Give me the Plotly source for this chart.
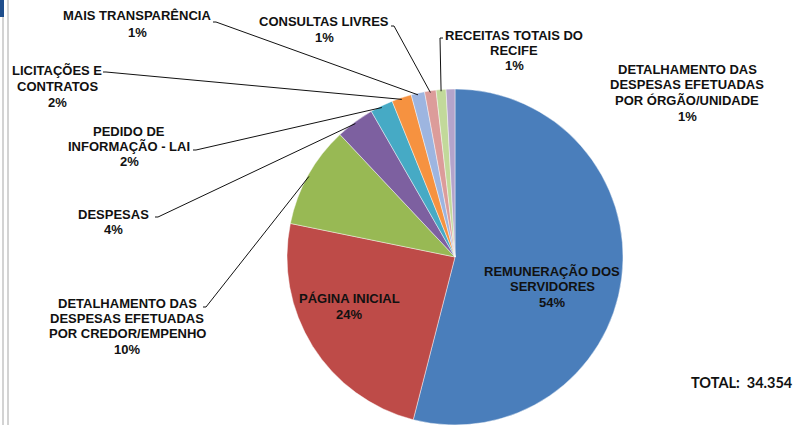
import math
import plotly.graph_objects as go

W, H = 799, 425

# ---- data ----
categories = [
    "REMUNERAÇÃO DOS<br>SERVIDORES",
    "PÁGINA INICIAL",
    "DETALHAMENTO DAS<br>DESPESAS EFETUADAS<br>POR CREDOR/EMPENHO",
    "DESPESAS",
    "PEDIDO DE<br>INFORMAÇÃO - LAI",
    "LICITAÇÕES E<br>CONTRATOS",
    "MAIS TRANSPARÊNCIA",
    "CONSULTAS LIVRES",
    "RECEITAS TOTAIS DO<br>RECIFE",
    "DETALHAMENTO DAS<br>DESPESAS EFETUADAS<br>POR ÓRGÃO/UNIDADE",
]
shares = [54.0, 24.2, 9.8, 3.7, 2.2, 1.9, 1.3, 1.1, 0.95, 0.85]
colors = ["#4A7EBB", "#BE4B48", "#98B954", "#7D60A0", "#46AAC5",
          "#F69240", "#9DB5E0", "#DC9C9A", "#C2D99A", "#B4A4CB"]
total_text = "TOTAL:  34.354"

# ---- geometry (pixels) ----
cx, cy, r = 455, 258, 169
dom_x = [(cx - r) / W, (cx + r) / W]
dom_y = [max(0, 1 - (cy + r) / H), 1 - (cy - r) / H]

fig = go.Figure(go.Pie(
    labels=[c.replace("<br>", " ") for c in categories],
    values=shares,
    sort=False,
    direction="clockwise",
    rotation=0,
    textinfo="none",
    hoverinfo="label+percent",
    marker=dict(colors=colors, line=dict(color="rgba(255,255,255,0.55)", width=0.8)),
    domain=dict(x=dom_x, y=dom_y),
    showlegend=False,
))

def px(x):
    return x / W

def py(y):
    return 1 - y / H

tot = sum(shares)
cum = 0
mids = []
for v in shares:
    mids.append((cum + v / 2) / tot * 2 * math.pi)
    cum += v

def edge(i, k=1.0):
    a = mids[i]
    return cx + r * k * math.sin(a), cy - r * k * math.cos(a)

pct = [f"{round(v / tot * 100)}%" for v in shares]

# label placement: (center x, first line center y, leader anchor or None)
place = [
    (552, 271, None),
    (349, 298, None),
    (127, 303, (203, 307)),
    (113, 214, (155, 217)),
    (129, 131, (193, 150)),
    (57, 71, (103, 72)),
    (137, 16, (213, 22)),
    (324, 22, (391, 26)),
    (514, 35, (443, 38)),
    (687, 70, None),
]
LH = 15

font = dict(family="Liberation Sans, Arial, sans-serif", size=13, color="#111111")
annotations = []
shapes = []
for i, (x, y, anc) in enumerate(place):
    lines = categories[i].split("<br>") + [pct[i]]
    for k, t in enumerate(lines):
        yy = y + k * LH + (1 if k == len(lines) - 1 and k > 0 else 0)
        annotations.append(dict(
            x=px(x), y=py(yy), xref="paper", yref="paper",
            text=f"<b>{t}</b>", showarrow=False,
            xanchor="center", yanchor="middle", align="center", font=font,
        ))
    if anc is not None:
        ex, ey = edge(i, 0.99)
        ax, ay = anc
        tick = 3 if ax < ex else -3
        path = f"M {px(ax)},{py(ay)} L {px(ax + tick)},{py(ay)} L {px(ex)},{py(ey)}"
        shapes.append(dict(type="path", xref="paper", yref="paper", path=path,
                           line=dict(color="#111111", width=1)))

annotations.append(dict(
    x=px(742), y=py(382), xref="paper", yref="paper",
    text=f"<b>{total_text}</b>", showarrow=False, xanchor="center", yanchor="middle",
    font=dict(family="Lato, Open Sans, sans-serif", size=14.5, color="#111111"),
))

# left window border decoration
shapes += [
    dict(type="line", xref="paper", yref="paper", x0=px(3), x1=px(3), y0=0, y1=1,
         line=dict(color="#C4C4C4", width=1.5)),
    dict(type="line", xref="paper", yref="paper", x0=px(8), x1=px(8), y0=0, y1=1,
         line=dict(color="#C4C4C4", width=1.5)),
    dict(type="rect", xref="paper", yref="paper", x0=0, x1=px(4), y0=py(17), y1=1,
         fillcolor="#1F4E8C", line=dict(width=0)),
]

fig.update_layout(
    width=W, height=H,
    margin=dict(l=0, r=0, t=0, b=0),
    paper_bgcolor="white", plot_bgcolor="white",
    annotations=annotations, shapes=shapes,
)

fig.write_html(
    "out.html",
    config={"displayModeBar": False},
    post_script="document.body.style.margin='0';document.body.style.overflow='hidden';",
)
